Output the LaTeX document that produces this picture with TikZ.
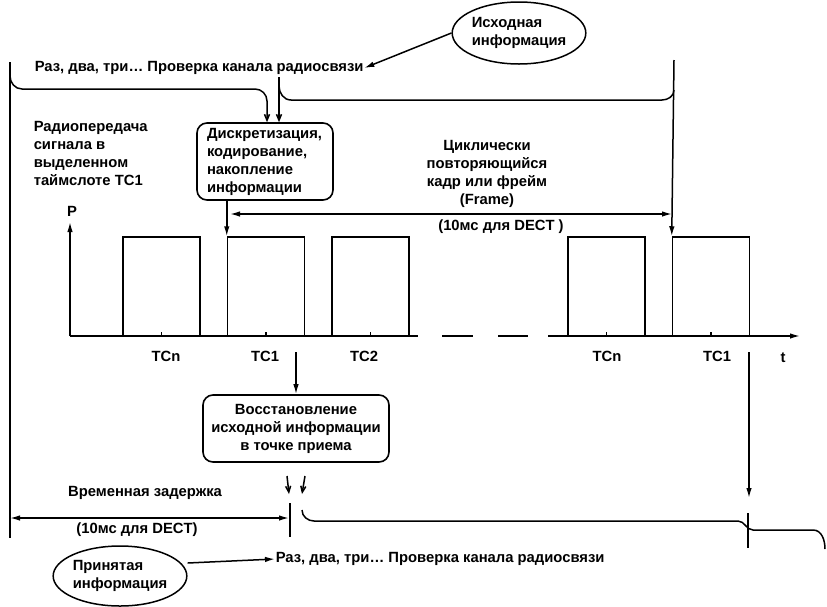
\documentclass[tikz,border=0pt]{standalone}
\usepackage{fontspec}
\setmainfont{Liberation Sans}
\usetikzlibrary{arrows.meta,shapes.geometric}
\begin{document}
\begin{tikzpicture}[x=1pt,y=-1pt,
  line width=1.5pt,
  every node/.style={font=\fontsize{14.8}{18}\selectfont\bfseries, inner sep=0pt},
  procbox/.style={draw, rounded corners=10pt, line width=1.6pt},
  cloud/.style={draw, ellipse, line width=1.5pt, align=left},
  pulse/.style={draw, minimum width=77pt, minimum height=99pt},
  arr/.style={-{Latex[length=10pt,width=5.5pt]}},
  darr/.style={{Latex[length=10pt,width=5.5pt]}-{Latex[length=10pt,width=5.5pt]}},
  barb/.style={-{Straight Barb[length=6pt,width=5pt]}},
]
\useasboundingbox (0,0) rectangle (827,606);

% ---------- source side ----------
\node[cloud, minimum width=124pt, minimum height=62pt] (src) at (519,33)
  {Исходная\\информация};
\node[anchor=west] (msgtop) at (34,68) {Раз, два, три\ldots\ Проверка канала радиосвязи};
\draw[arr] (src.west) -- (msgtop.east);

\node[procbox, minimum width=136pt, minimum height=77pt, align=left,
      text width=116pt] (enc) at (265,161.5)
  {Дискретизация,\\кодирование,\\накопление\\информации};

\node[anchor=north west, align=left] (radio) at (33,121)
  {Радиопередача\\сигнала в\\выделенном\\таймслоте ТС1};

\node[align=center] (cycle) at (487,174)
  {Циклически\\повторяющийся\\кадр или фрейм\\(Frame)};
\node (frameA) at (501,227) {(10мс для DECT )};

% left time line and the first speech fragment
\coordinate (l0) at (10,62);
\coordinate (l1) at (10,538);
\draw (l0) -- (l1);
\draw[barb] (10,76) to[out=-90,in=180] (22,89) -- (255,89)
  to[out=0,in=90] (267,101) -- (enc.north -| 267,0);

% second fragment line
\coordinate (s0) at (279,77);
\draw[barb] (s0) -- (enc.north -| s0);
\coordinate (r0) at (674,60);
\draw (279,86) to[out=-90,in=180] (291,100) -- (662,100)
  to[out=0,in=-90] (674,90);

% ---------- time axis with pulses ----------
\coordinate (origin) at (70,336);
\coordinate (ptop) at (70,222);
\draw[arr] (origin) -- (ptop);
\node (plab) at (72,211) {P};

\draw (origin) -- (418,336);
\draw (442,336) -- (473,336);
\draw (498,336) -- (528,336);
\coordinate (tend) at (800,336);
\draw[arr] (548,336) -- (tend);
\node (tlab) at (783,358) {t};

\node[pulse] (p1) at (161.5,286.5) {};
\node[pulse] (p2) at (266,286.5) {};
\node[pulse] (p3) at (370.5,286.5) {};
\node[pulse] (p4) at (606.5,286.5) {};
\node[pulse] (p5) at (711,286.5) {};
\foreach \p in {p1,p2,p3,p4,p5}
  \draw[line width=1.2pt] (\p.south) -- ++(0,-5);

\node (ts1) at (166,356) {TCn};
\node (ts2) at (265,356) {TC1};
\node (ts3) at (364,356) {TC2};
\node (ts4) at (607,356) {TCn};
\node (ts5) at (717,356) {TC1};

% arrows into the slots
\draw[arr] (r0) -- (p5.north west);
\draw[arr] (enc.south -| p2.north west) -- (p2.north west);
\draw[darr] (230,214) -- (672,214);

% ---------- receiver side ----------
\node[procbox, minimum width=186pt, minimum height=67pt, align=center]
  (dec) at (296,428.5)
  {Восстановление\\исходной информации\\в точке приема};
\coordinate (d0) at (296,352);
\draw[arr] (d0) -- (dec.north);

\draw[barb] (287,476) -- (289,494);
\draw[barb] (305,476) -- (302,494);

\coordinate (m0) at (290,503);
\coordinate (m1) at (290,537);
\draw (m0) -- (m1);
\draw[darr] (10,518) -- (289,518);
\node (delay) at (145,493) {Временная задержка};
\node (frameB) at (137,530) {(10мс для DECT)};

% received fragment lines
\draw (302,510) to[out=-90,in=180] (314,521) -- (738,521)
  to[out=0,in=180] (753,530) -- (813,530) to[out=0,in=90] (825,549);
\coordinate (e0) at (748,513);
\coordinate (e1) at (748,548);
\draw (e0) -- (e1);
\coordinate (f0) at (749,352);
\draw[arr] (f0) -- (749,498);

\node[anchor=west] (msgbot) at (275,559) {Раз, два, три\ldots\ Проверка канала радиосвязи};
\node[cloud, minimum width=122pt, minimum height=60pt] (dst) at (120,576)
  {Принятая\\информация};
\draw[arr] (dst.east |- 0,563) -- (msgbot.west);
\end{tikzpicture}
\end{document}
